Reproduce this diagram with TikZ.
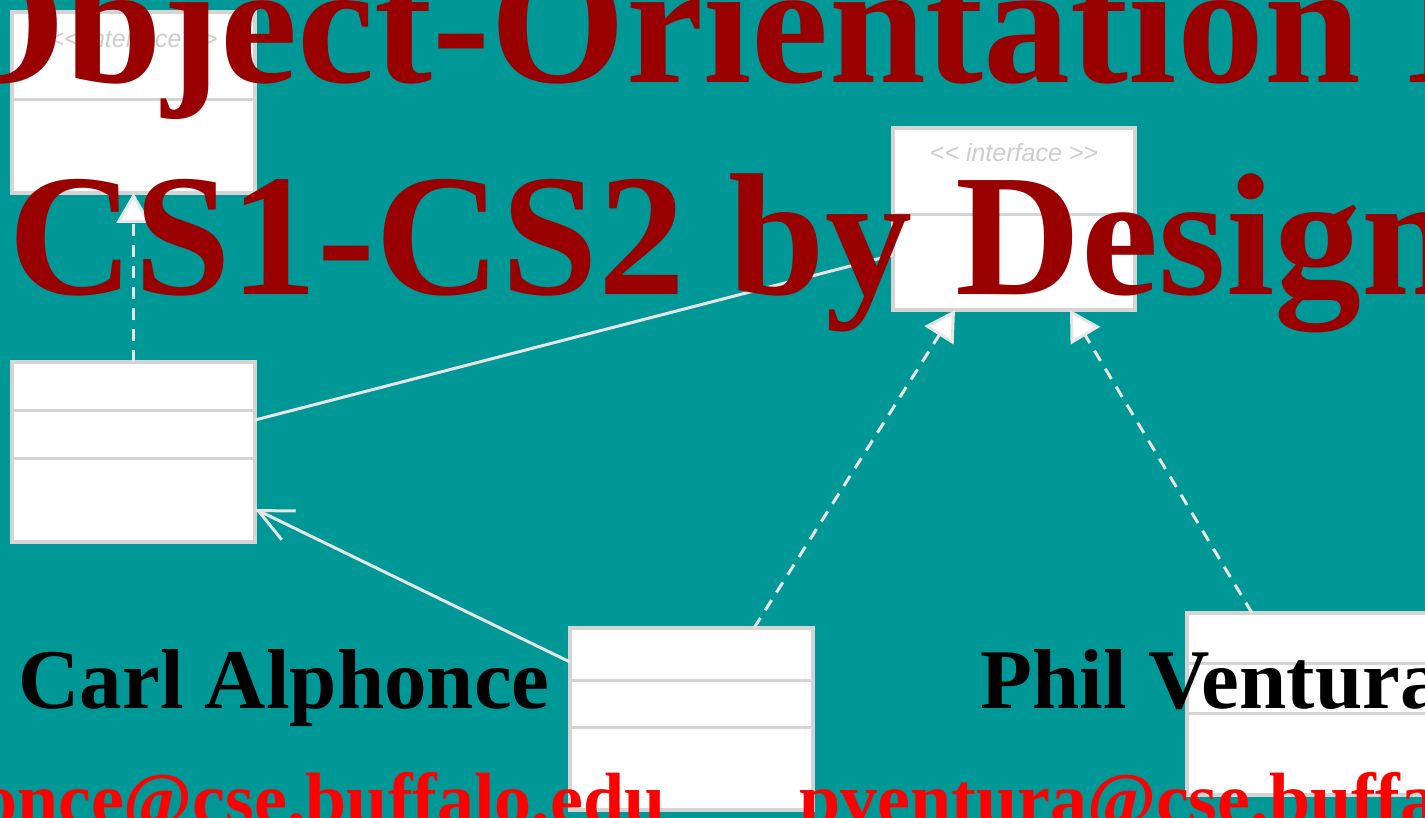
\documentclass[tikz,border=0pt]{standalone}
\usepackage{fontspec}
\setmainfont{Liberation Serif}
\newfontfamily\uifont{Liberation Sans}
\usetikzlibrary{arrows.meta,calc}
\definecolor{tealbg}{RGB}{0,151,151}
\definecolor{titlered}{RGB}{153,0,0}
\definecolor{mailred}{RGB}{255,0,0}
\definecolor{boxline}{RGB}{212,212,212}
\definecolor{connline}{RGB}{230,230,230}
\definecolor{stereo}{RGB}{205,205,205}
\tikzset{
 umlbox/.style={draw=boxline, fill=white, line width=1.8pt, inner sep=0pt, outer sep=0pt, anchor=north west},
 sepline/.style={draw=boxline, line width=1.5pt},
 conn/.style={draw=connline, line width=1.5pt},
 realize/.style={conn, dash pattern=on 6pt off 4.5pt, -{Triangle[length=15pt,width=17pt,fill=white]}},
 navig/.style={conn, -{Straight Barb[length=17pt,width=16pt]}},
 stereotype/.style={text=stereo, font=\uifont\itshape\fontsize{12.5pt}{12.5pt}\selectfont, inner sep=0pt},
 titletext/.style={text=titlered, font=\bfseries\fontsize{87pt}{87pt}\selectfont, inner sep=0pt, anchor=base west},
 authortext/.style={text=black, font=\bfseries\fontsize{42.5pt}{42.5pt}\selectfont, inner sep=0pt},
 emailtext/.style={text=mailred, font=\bfseries\fontsize{37pt}{37pt}\selectfont, inner sep=0pt},
}
\begin{document}
\begin{tikzpicture}[x=0.5pt,y=-0.5pt]
\useasboundingbox (0,0) rectangle (1425,818);
\clip (0,0) rectangle (1425,818);
\fill[tealbg] (0,0) rectangle (1425,818);

% boxes
\node[umlbox, minimum width=121.5pt, minimum height=90.5pt] (i1) at (12,12) {};
\node[umlbox, minimum width=121.5pt, minimum height=90pt] (c1) at (12,362) {};
\node[umlbox, minimum width=121pt, minimum height=91pt] (i2) at (893,128) {};
\node[umlbox, minimum width=121.5pt, minimum height=91pt] (c2) at (570,628) {};
\node[umlbox, minimum width=130pt, minimum height=91pt] (c3) at (1187,613) {};

% compartments
\draw[sepline] ($(i1.north west)+(0,88)$) -- ($(i1.north east)+(0,88)$);
\draw[sepline] ($(c1.north west)+(0,48)$) -- ($(c1.north east)+(0,48)$);
\draw[sepline] ($(c1.north west)+(0,96)$) -- ($(c1.north east)+(0,96)$);
\draw[sepline] ($(i2.north west)+(0,87)$) -- ($(i2.north east)+(0,87)$);
\draw[sepline] ($(c2.north west)+(0,52)$) -- ($(c2.north east)+(0,52)$);
\draw[sepline] ($(c2.north west)+(0,99)$) -- ($(c2.north east)+(0,99)$);
\draw[sepline] ($(c3.north west)+(0,50)$) -- ($(c3.north east)+(0,50)$);
\draw[sepline] ($(c3.north west)+(0,100)$) -- ($(c3.north east)+(0,100)$);

% stereotypes
\node[stereotype] (s1) at ($(i1.north)+(0,27)$) {<< interface >>};
\node[stereotype] (s2) at ($(i2.north)+(0,25)$) {<< interface >>};

% connectors
\draw[realize] (c1.north) -- (i1.south);
\draw[conn] ($(c1.north east)+(0,58)$) -- ($(i2.north west)+(0,127)$);
\draw[navig] ($(c2.north west)+(0,34)$) -- ($(c1.north east)+(0,147)$);
\draw[realize] ($(c2.north west)+(184,0)$) -- ($(i2.south west)+(62,0)$);
\draw[realize] ($(c3.north west)+(65,0)$) -- ($(i2.south west)+(177,0)$);

% texts
\node[titletext] (t1) at (-70,83) {Object-Orientation I};
\node[titletext] (t2) at (8,295) {CS1-CS2 by Design};
\node[authortext, anchor=base west] (a1) at (18,708) {Carl Alphonce};
\node[authortext, anchor=base west] (a2) at (980,708) {Phil Ventura};
\node[emailtext, anchor=base east] (e1) at (666,824) {alphonce@cse.buffalo.edu};
\node[emailtext, anchor=base west] (e2) at (799,824) {pventura@cse.buffalo.edu};
\end{tikzpicture}
\end{document}
